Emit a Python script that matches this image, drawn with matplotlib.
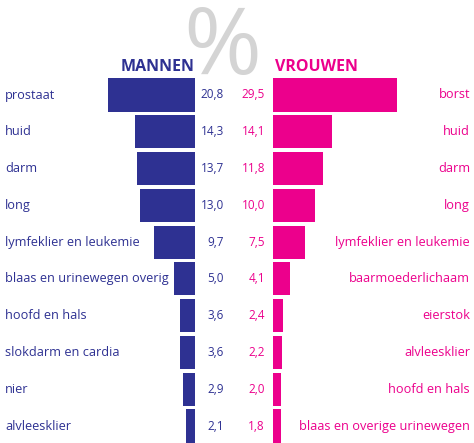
import matplotlib
matplotlib.use("Agg")
import matplotlib.pyplot as plt

men_labels = ["prostaat","huid","darm","long","lymfeklier en leukemie","blaas en urinewegen overig","hoofd en hals","slokdarm en cardia","nier","alvleesklier"]
men_values = [20.8,14.3,13.7,13.0,9.7,5.0,3.6,3.6,2.9,2.1]
women_labels = ["borst","huid","darm","long","lymfeklier en leukemie","baarmoederlichaam","eierstok","alvleesklier","hoofd en hals","blaas en overige urinewegen"]
women_values = [29.5,14.1,11.8,10.0,7.5,4.1,2.4,2.2,2.0,1.8]

BLUE = "#2e3192"; PINK = "#ec008c"
W, H = 474, 443
scale = 4.2
ytop, ybot = -95/36.78, (443-95)/36.78
fig = plt.figure(figsize=(W/100, H/100), dpi=100)
font = "Open Sans"

ax = fig.add_axes([0, 0, 1, 1])
ax.set_xlim(0, W); ax.set_ylim(ybot, ytop); ax.axis("off")
ax.text(222, -1.25, "%", fontsize=68, color="#d4d4d4", ha="center", va="center", family=font)

axL = fig.add_axes([0, 0, 195/W, 1]); axL.patch.set_alpha(0)
axL.barh(range(10), men_values, height=0.9, color=BLUE)
axL.set_xlim(195/scale, 0); axL.set_ylim(ybot, ytop); axL.axis("off")

axR = fig.add_axes([273/W, 0, 1-273/W, 1]); axR.patch.set_alpha(0)
axR.barh(range(10), women_values, height=0.9, color=PINK)
axR.set_xlim(0, (W-273)/scale); axR.set_ylim(ybot, ytop); axR.axis("off")

ov = fig.add_axes([0, 0, 1, 1]); ov.patch.set_alpha(0)
ov.set_xlim(0, W); ov.set_ylim(ybot, ytop); ov.axis("off")
ov.text(195, -0.75, "MANNEN", color=BLUE, fontsize=11.5, fontweight="bold", ha="right", va="center", family=font)
ov.text(275, -0.75, "VROUWEN", color=PINK, fontsize=11.5, fontweight="bold", ha="left", va="center", family=font)
for i in range(10):
    ov.text(5, i, men_labels[i], color=BLUE, fontsize=9.2, ha="left", va="center", family=font)
    ov.text(224, i, f"{men_values[i]:.1f}".replace(".", ","), color=BLUE, fontsize=8.5, ha="right", va="center", family=font)
    ov.text(265, i, f"{women_values[i]:.1f}".replace(".", ","), color=PINK, fontsize=8.5, ha="right", va="center", family=font)
    ov.text(470, i, women_labels[i], color=PINK, fontsize=9.2, ha="right", va="center", family=font)

fig.savefig("out.png", dpi=100)
